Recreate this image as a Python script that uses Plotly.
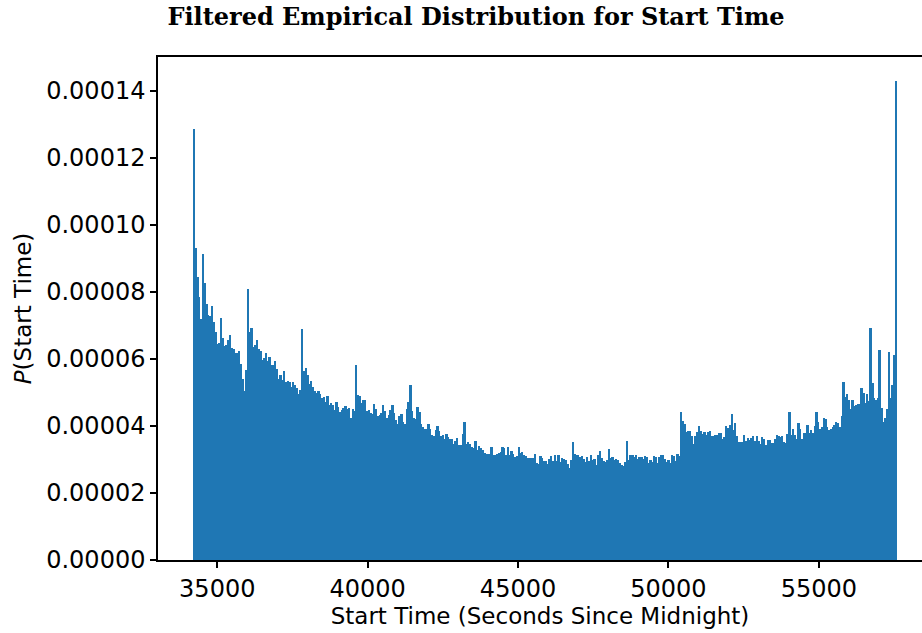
import plotly.graph_objects as go

# Histogram: 60-second bins starting at 09:30 (34200 s) up to 16:00 (57600 s)
bin_start = 34200
bin_width = 60

# density values in units of 1e-5, bins 0..129
dens_open = [
    12.87, 9.32, 8.46, 7.86, 7.19, 9.13, 8.27, 7.65, 7.31, 7.28,
    7.58, 7.10, 6.81, 6.46, 6.49, 7.22, 6.63, 6.40, 6.43, 6.57,
    6.72, 6.33, 6.30, 6.18, 6.18, 6.24, 5.85, 5.40, 5.04, 5.67,
    8.09, 6.81, 6.93, 6.36, 6.42, 6.57, 6.30, 6.24, 5.98, 6.04,
    6.18, 5.94, 6.06, 5.82, 5.82, 5.94, 5.70, 5.40, 5.52, 5.37,
    5.64, 5.31, 5.34, 5.31, 5.16, 5.31, 5.22, 5.13, 4.96, 5.07,
    6.90, 5.64, 5.73, 5.52, 5.25, 5.34, 5.16, 5.04, 4.99, 5.04,
    4.96, 4.84, 4.87, 4.72, 4.90, 4.63, 4.69, 4.63, 4.48, 4.72,
    4.57, 4.42, 4.48, 4.54, 4.60, 4.51, 4.54, 4.24, 4.51, 4.45,
    5.82, 4.93, 4.90, 4.69, 4.78, 4.78, 4.45, 4.48, 4.39, 4.36,
    4.66, 4.51, 4.30, 4.33, 4.39, 4.63, 4.45, 4.24, 4.33, 4.48,
    4.63, 4.39, 4.18, 4.06, 4.30, 4.36, 4.12, 4.06, 4.51, 4.72,
    5.22, 4.45, 4.24, 4.21, 4.57, 4.42, 4.06, 3.97, 3.91, 3.91,
]
# bins 130..269
dens_midday = [
    4.06, 3.91, 3.73, 3.70, 3.88, 4.00, 3.85, 3.70, 3.73, 3.61,
    3.76, 3.67, 3.61, 3.61, 3.46, 3.55, 3.64, 3.43, 3.43, 3.76,
    4.12, 3.46, 3.52, 3.46, 3.37, 3.34, 3.55, 3.28, 3.40, 3.34,
    3.28, 3.19, 3.16, 3.16, 3.16, 3.37, 3.13, 3.13, 3.16, 3.19,
    3.22, 3.37, 3.34, 3.13, 3.37, 3.13, 3.25, 3.16, 3.07, 3.10,
    3.37, 3.19, 3.22, 3.13, 3.10, 3.04, 3.04, 3.04, 3.04, 3.16,
    2.90, 2.87, 3.10, 3.04, 2.96, 2.96, 2.87, 3.01, 3.10, 2.96,
    3.13, 2.96, 3.13, 2.93, 3.04, 3.01, 2.99, 2.87, 2.75, 2.99,
    3.52, 3.16, 3.13, 3.13, 3.07, 3.10, 3.01, 2.93, 3.07, 2.96,
    3.13, 2.99, 3.01, 2.84, 3.13, 3.25, 3.04, 2.96, 2.93, 2.99,
    3.31, 3.04, 3.07, 2.99, 3.01, 2.99, 2.90, 2.84, 2.81, 2.93,
    3.55, 2.99, 3.13, 3.13, 3.07, 3.13, 3.01, 3.07, 3.07, 3.01,
    3.10, 3.07, 2.90, 2.99, 2.93, 3.10, 3.07, 2.90, 3.07, 3.13,
    3.13, 3.01, 2.93, 2.99, 2.90, 3.13, 3.10, 2.96, 3.16, 3.10,
]
# bins 270..389
dens_close = [
    4.42, 4.15, 4.06, 3.82, 3.85, 3.85, 3.70, 3.46, 3.70, 3.82,
    4.00, 3.85, 3.76, 3.82, 3.73, 3.82, 3.85, 3.70, 3.70, 3.73,
    3.73, 3.79, 3.79, 3.61, 3.67, 4.00, 3.94, 4.03, 4.36, 3.88,
    4.09, 3.70, 3.52, 3.52, 3.52, 3.73, 3.55, 3.64, 3.58, 3.64,
    3.70, 3.55, 3.70, 3.55, 3.46, 3.67, 3.61, 3.43, 3.58, 3.58,
    3.49, 3.49, 3.61, 3.73, 3.70, 3.67, 3.70, 3.52, 3.49, 3.76,
    4.42, 3.73, 3.91, 3.73, 3.61, 4.09, 3.91, 3.61, 3.79, 3.79,
    4.03, 3.79, 3.88, 3.79, 4.00, 4.42, 4.12, 3.91, 3.97, 4.24,
    4.21, 3.97, 3.88, 3.91, 3.97, 4.03, 4.12, 4.09, 3.97, 4.30,
    5.31, 4.87, 4.96, 4.78, 4.51, 4.78, 4.60, 4.63, 4.66, 4.66,
    5.13, 4.99, 4.69, 4.96, 4.75, 6.93, 5.28, 4.84, 4.78, 4.84,
    6.27, 4.54, 4.12, 4.24, 4.51, 6.21, 4.84, 5.22, 6.12, 14.30,
]

density = [v * 1e-5 for v in dens_open + dens_midday + dens_close]
centers = [bin_start + bin_width * (i + 0.5) for i in range(len(density))]

x_ticks = [35000, 40000, 45000, 50000, 55000]
y_ticks = [0, 0.00002, 0.00004, 0.00006, 0.00008, 0.00010, 0.00012, 0.00014]

fig = go.Figure(go.Bar(
    x=centers, y=density, width=bin_width,
    marker=dict(color="#1f77b4", line=dict(width=0)),
    hoverinfo="x+y",
))

font_main = "DejaVu Sans, sans-serif"
tick_size = 24
label_size = 23
fig.update_layout(
    width=922, height=633,
    margin=dict(l=158, r=0, t=57, b=73),
    paper_bgcolor="white", plot_bgcolor="white",
    bargap=0, showlegend=False,
    font=dict(family=font_main, size=tick_size, color="black"),
    title=dict(
        text="<b>Filtered Empirical Distribution for Start Time</b>",
        font=dict(family="DejaVu Serif, serif", size=24, color="black"),
        x=476 / 922, xanchor="center", xref="container",
        y=1 - 17 / 633, yanchor="middle", yref="container",
    ),
)

fig.update_xaxes(
    range=[33030, 58430],
    tickvals=x_ticks, ticktext=[str(v) for v in x_ticks],
    ticks="outside", ticklen=6, tickwidth=1.5, tickcolor="black",
    showline=True, linecolor="black", linewidth=1.5, mirror=True,
    showgrid=False, zeroline=False,
    title=dict(text="Start Time (Seconds Since Midnight)", standoff=6,
               font=dict(family=font_main, size=label_size)),
    tickfont=dict(family=font_main, size=tick_size),
)
fig.update_yaxes(
    range=[0, 0.00015015],
    tickvals=y_ticks, ticktext=[f"{v:.5f}" for v in y_ticks],
    ticks="outside", ticklen=6, tickwidth=1.5, tickcolor="black",
    showline=True, linecolor="black", linewidth=1.5, mirror=False,
    showgrid=False, zeroline=False,
    title=dict(text="<i>P</i>(Start Time)", standoff=8,
               font=dict(family=font_main, size=label_size)),
    tickfont=dict(family=font_main, size=tick_size),
)

fig.write_html("out.html")
